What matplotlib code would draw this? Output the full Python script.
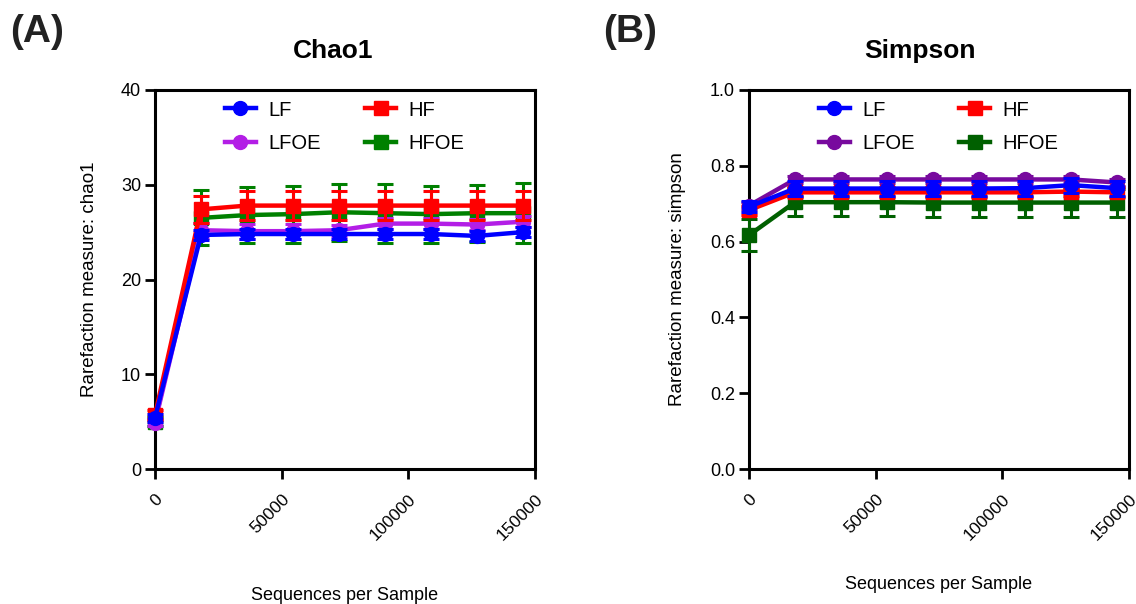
import numpy as np
import matplotlib
matplotlib.use('Agg')
import matplotlib.pyplot as plt

plt.rcParams['font.family'] = ['Liberation Sans', 'DejaVu Sans']

# sequencing depth (sequences per sample)
depth = [0, 18150, 36300, 54450, 72600, 90750, 108900, 127050, 145200]
groups = ['LF', 'HF', 'LFOE', 'HFOE']

# chao1
chao_mean = {
    'LF':   [5.4, 24.7, 24.8, 24.8, 24.8, 24.8, 24.8, 24.6, 25.0],
    'HF':   [5.7, 27.4, 27.8, 27.8, 27.8, 27.8, 27.8, 27.8, 27.8],
    'LFOE': [4.9, 25.2, 25.1, 25.1, 25.2, 25.9, 25.9, 25.8, 26.1],
    'HFOE': [5.0, 26.5, 26.8, 26.9, 27.1, 27.0, 26.9, 27.0, 27.0],
}
chao_sd = {
    'LF':   [0.4, 0.5, 0.5, 0.5, 0.5, 0.5, 0.5, 0.5, 0.5],
    'HF':   [0.5, 1.4, 1.5, 1.5, 1.5, 1.5, 1.5, 1.5, 1.5],
    'LFOE': [0.4, 0.8, 0.8, 0.8, 0.6, 0.6, 0.6, 0.6, 0.6],
    'HFOE': [0.5, 2.9, 3.0, 3.0, 3.0, 3.1, 3.0, 3.0, 3.15],
}

# simpson
simp_mean = {
    'LF':   [0.692, 0.740, 0.740, 0.740, 0.740, 0.740, 0.741, 0.749, 0.741],
    'HF':   [0.683, 0.730, 0.730, 0.730, 0.730, 0.730, 0.730, 0.732, 0.730],
    'LFOE': [0.695, 0.764, 0.764, 0.764, 0.764, 0.764, 0.764, 0.764, 0.756],
    'HFOE': [0.617, 0.704, 0.704, 0.704, 0.703, 0.703, 0.703, 0.703, 0.703],
}
simp_sd = {
    'LF':   [0.015, 0.020, 0.020, 0.020, 0.020, 0.020, 0.020, 0.020, 0.020],
    'HF':   [0.012, 0.013, 0.013, 0.013, 0.013, 0.013, 0.013, 0.013, 0.013],
    'LFOE': [0.010, 0.010, 0.010, 0.010, 0.010, 0.010, 0.010, 0.010, 0.010],
    'HFOE': [0.042, 0.037, 0.037, 0.037, 0.037, 0.037, 0.037, 0.037, 0.037],
}

markers = {'LF': 'o', 'HF': 's', 'LFOE': 'o', 'HFOE': 's'}
colors_a = {'LF': '#0000ff', 'HF': '#ff0000', 'LFOE': '#b31ee6', 'HFOE': '#008000'}
colors_b = {'LF': '#0000ff', 'HF': '#ff0000', 'LFOE': '#780a9e', 'HFOE': '#006000'}


def _plot_panel(ax, mean, sd, colors, order, ylim, yticks, yfmt, ylabel, title,
                xlab_y=-0.32, ylab_x=-0.18, title_x=0.5):
    handles = {}
    for i, g in enumerate(order):
        h = ax.errorbar(depth, mean[g], yerr=sd[g], color=colors[g], marker=markers[g],
                        markersize=10, lw=3.2, elinewidth=2.2, capsize=6, capthick=2.2,
                        zorder=3 + i, clip_on=False)
        handles[g] = h[0]
    ax.set_xlim(0, 150000)
    ax.set_ylim(*ylim)
    ax.set_xticks([0, 50000, 100000, 150000])
    ax.set_xticklabels(['0', '50000', '100000', '150000'], rotation=45,
                       ha='right', va='top', rotation_mode='anchor')
    ax.set_yticks(yticks)
    ax.set_yticklabels([yfmt.format(v) for v in yticks])
    for s in ax.spines.values():
        s.set_linewidth(2.2)
    ax.tick_params(direction='out', length=7, width=2, labelsize=13, pad=3)
    ax.tick_params(axis='x', labelsize=12.5, pad=9)
    ax.set_ylabel(ylabel, fontsize=13.5)
    ax.yaxis.set_label_coords(ylab_x, 0.5)
    ax.set_xlabel('Sequences per Sample', fontsize=13)
    ax.xaxis.set_label_coords(0.5, xlab_y)
    ax.set_title(title, fontsize=19, fontweight='bold', pad=23, x=title_x)
    leg_order = ['LF', 'LFOE', 'HF', 'HFOE']
    ax.legend([handles[g] for g in leg_order], leg_order, ncol=2, frameon=False,
              loc='upper center', bbox_to_anchor=(0.5, 1.02), fontsize=14.5,
              handlelength=1.5, handletextpad=0.65, columnspacing=2.2, labelspacing=0.7)


fig = plt.figure(figsize=(11.36, 6.04), dpi=100)
ax1 = fig.add_axes([155 / 1136, 1 - 469 / 604, 380 / 1136, 379 / 604])
ax2 = fig.add_axes([749 / 1136, 1 - 469 / 604, 380 / 1136, 379 / 604])

_plot_panel(ax1, chao_mean, chao_sd, colors_a, ['HFOE', 'LFOE', 'HF', 'LF'],
            (0, 40), [0, 10, 20, 30, 40], '{:.0f}', 'Rarefaction measure: chao1', 'Chao1',
            xlab_y=-0.311, ylab_x=-0.15, title_x=0.468)
_plot_panel(ax2, simp_mean, simp_sd, colors_b, ['HFOE', 'HF', 'LFOE', 'LF'],
            (0, 1.0), [0.0, 0.2, 0.4, 0.6, 0.8, 1.0], '{:.1f}', 'Rarefaction measure: simpson',
            'Simpson', xlab_y=-0.282, ylab_x=-0.166, title_x=0.45)

fig.text(10 / 1136, 1 - 32 / 604, '(A)', fontsize=28, fontweight='bold', color='#222222', va='center')
fig.text(603 / 1136, 1 - 32 / 604, '(B)', fontsize=28, fontweight='bold', color='#222222', va='center')

fig.savefig('out.png', dpi=100)
